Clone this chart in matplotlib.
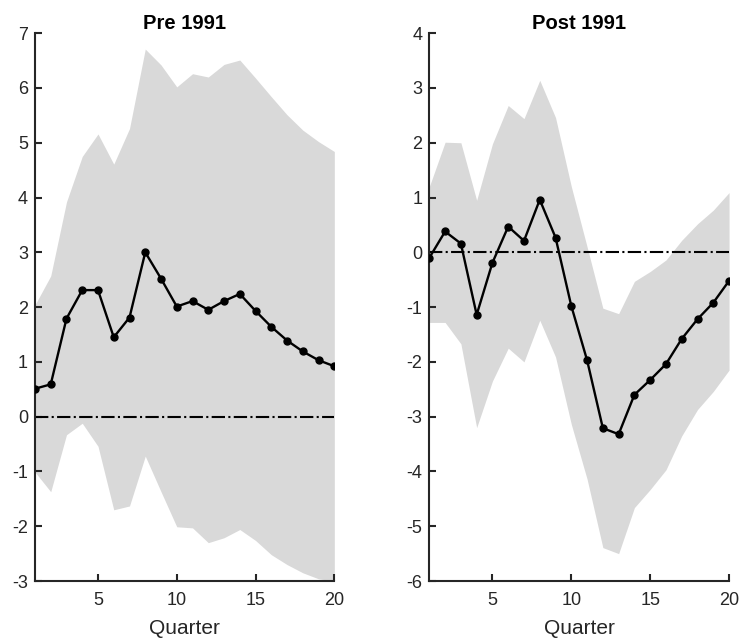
import matplotlib
matplotlib.use("Agg")
import matplotlib.pyplot as plt
import numpy as np

plt.rcParams['font.family'] = ['Liberation Sans', 'DejaVu Sans']
plt.rcParams['axes.unicode_minus'] = False

quarters = np.arange(1, 21)

# Pre 1991 impulse response and error band
pre_mean = [0.51, 0.59, 1.79, 2.31, 2.31, 1.45, 1.81, 3.00, 2.52, 2.01,
            2.11, 1.95, 2.11, 2.24, 1.93, 1.64, 1.39, 1.19, 1.03, 0.92]
pre_upper = [2.04, 2.57, 3.92, 4.75, 5.16, 4.61, 5.26, 6.71, 6.42, 6.02,
             6.26, 6.20, 6.43, 6.51, 6.18, 5.84, 5.51, 5.23, 5.02, 4.84]
pre_lower = [-1.01, -1.37, -0.33, -0.12, -0.54, -1.70, -1.63, -0.72, -1.37, -2.01,
             -2.03, -2.30, -2.21, -2.06, -2.26, -2.52, -2.70, -2.85, -2.96, -3.00]

# Post 1991 impulse response and error band
post_mean = [-0.10, 0.38, 0.16, -1.14, -0.19, 0.47, 0.21, 0.96, 0.27, -0.98,
             -1.97, -3.21, -3.32, -2.60, -2.33, -2.04, -1.58, -1.22, -0.92, -0.52]
post_upper = [1.20, 2.01, 2.00, 0.95, 1.98, 2.68, 2.44, 3.14, 2.46, 1.20,
              0.10, -1.02, -1.12, -0.53, -0.35, -0.14, 0.22, 0.52, 0.77, 1.09]
post_lower = [-1.28, -1.28, -1.67, -3.20, -2.35, -1.75, -2.00, -1.24, -1.91, -3.14,
              -4.14, -5.39, -5.50, -4.66, -4.33, -3.97, -3.35, -2.87, -2.54, -2.15]

titles = ["Pre 1991", "Post 1991"]
ylims = [(-3, 7), (-6, 4)]
xticks = [5, 10, 15, 20]

fig = plt.figure(figsize=(7.41, 6.43), dpi=100)
positions = [[0.0472, 0.0964, 0.404, 0.852], [0.5794, 0.0964, 0.4045, 0.852]]
panels = [(pre_mean, pre_upper, pre_lower), (post_mean, post_upper, post_lower)]

axis_color = '#262626'
for pos, (mean, upper, lower), title, ylim in zip(positions, panels, titles, ylims):
    ax = fig.add_axes(pos)
    ax.fill_between(quarters, lower, upper, color='#d9d9d9', linewidth=0, zorder=1)
    ax.axhline(0, color='black', linestyle='-.', linewidth=1.5, zorder=2)
    ax.plot(quarters, mean, color='black', linewidth=1.7, marker='o',
            markersize=5, zorder=3)
    ax.set_xlim(1, 20)
    ax.set_ylim(*ylim)
    ax.set_xticks(xticks)
    ax.set_yticks(np.arange(ylim[0], ylim[1] + 1))
    for side in ('top', 'right'):
        ax.spines[side].set_visible(False)
    for side in ('left', 'bottom'):
        ax.spines[side].set_color(axis_color)
        ax.spines[side].set_linewidth(1.5)
    ax.tick_params(direction='in', length=5, width=1.5, color=axis_color,
                   labelcolor=axis_color, labelsize=13)
    ax.tick_params(axis='y', pad=5)
    ax.tick_params(axis='x', pad=8)
    ax.set_xlabel("Quarter", fontsize=15, color=axis_color, labelpad=7)
    ax.set_title(title, fontsize=14.5, fontweight='bold', pad=3)

fig.savefig("out.png", dpi=100)
